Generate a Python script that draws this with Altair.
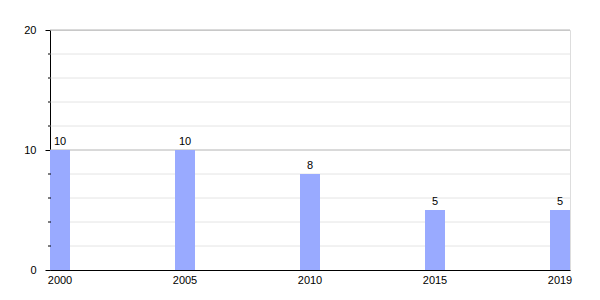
import altair as alt
import pandas as pd

years = ["2000", "2005", "2010", "2015", "2019"]
values = [10, 10, 8, 5, 5]
major_ticks = [0, 10, 20]
minor_ticks = [2, 4, 6, 8, 12, 14, 16, 18]

df = pd.DataFrame({"year": years, "value": values})
major_df = pd.DataFrame({"value": major_ticks[1:]})
minor_df = pd.DataFrame({"value": minor_ticks})

FONT = "Liberation Sans"
yscale = alt.Scale(domain=[0, 20], nice=False)

x = alt.X(
    "year:N",
    sort=years,
    scale=alt.Scale(paddingInner=0.84, paddingOuter=0),
    axis=alt.Axis(
        title=None, labelAngle=0, ticks=False, domainColor="#000000",
        labelColor="#000000", labelFontSize=11, labelFont=FONT, labelPadding=4,
        grid=False,
    ),
)
y = alt.Y(
    "value:Q",
    scale=yscale,
    axis=alt.Axis(
        title=None,
        values=major_ticks,
        grid=False,
        tickSize=5,
        tickColor="#000000",
        domainColor="#000000",
        labelColor="#000000",
        labelFontSize=11,
        labelFont=FONT,
        labelPadding=9,
    ),
)

minor_grid = alt.Chart(minor_df).mark_rule(color="#e4e4e4", strokeWidth=1).encode(
    y=alt.Y("value:Q", scale=yscale, title=None)
)
major_grid = alt.Chart(major_df).mark_rule(color="#b4b4b4", strokeWidth=1).encode(
    y=alt.Y("value:Q", scale=yscale, title=None)
)
minor_tick_marks = alt.Chart(minor_df).mark_rule(color="#000000", strokeWidth=1).encode(
    y=alt.Y("value:Q", scale=yscale, title=None),
    x=alt.value(-2),
    x2=alt.value(1),
)

bars = alt.Chart(df).mark_bar(color="#99aaff").encode(x=x, y=y)
text = alt.Chart(df).mark_text(dy=-8, fontSize=11, font=FONT, color="#000000").encode(
    x=alt.X("year:N", sort=years), y="value:Q", text="value:Q"
)

chart = (
    alt.layer(minor_grid, major_grid, bars, text, minor_tick_marks)
    .properties(
        width=520,
        height=240,
        autosize=alt.AutoSizeParams(type="none"),
        padding={"left": 50, "top": 30, "right": 30, "bottom": 30},
    )
    .configure_view(stroke=None)
    .configure(background="white")
)

chart.save("out.html", embed_options={"renderer": "svg", "actions": False})
